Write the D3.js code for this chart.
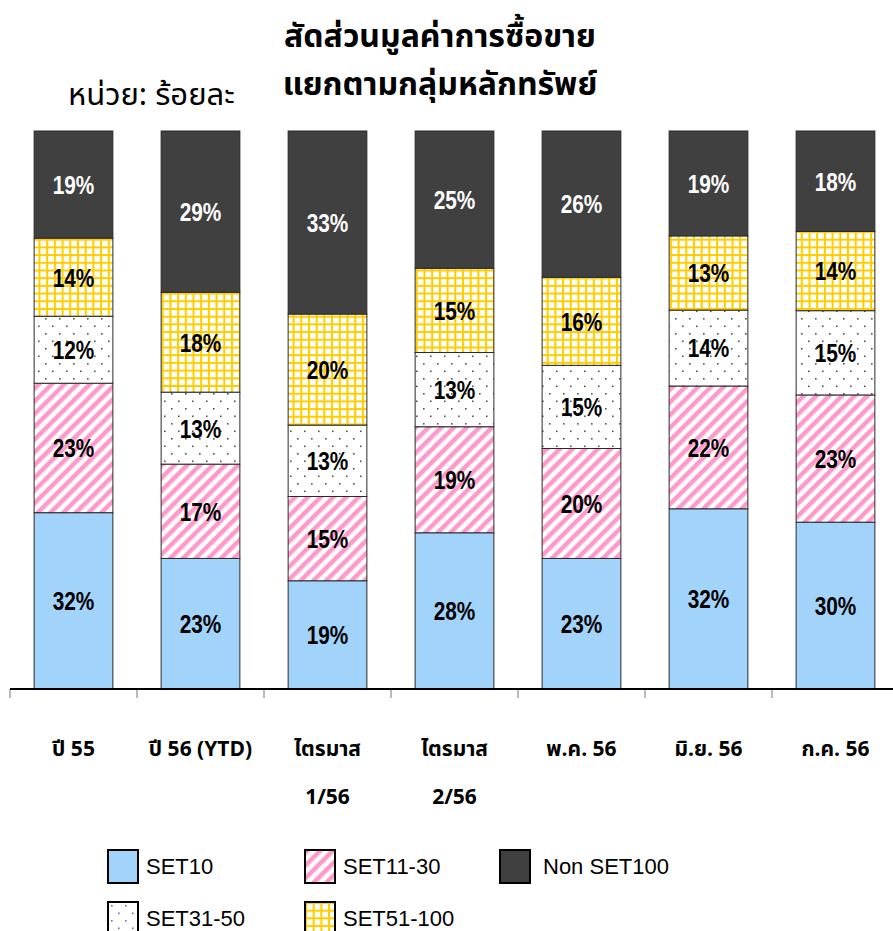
<!DOCTYPE html>
<html>
<head>
<meta charset="utf-8">
<script src="https://cdn.jsdelivr.net/npm/d3@7"></script>
<style>
  body { margin: 0; background: #fff; }
  svg { display: block; }
  .thai { font-family: "Noto Sans Thai", "Noto Sans Thai UI", "Noto Sans", "DejaVu Sans", sans-serif; }
  .lbl { font-family: "Liberation Sans", Arial, sans-serif; font-weight: bold; }
  .leg { font-family: "Liberation Sans", Arial, sans-serif; }
</style>
</head>
<body>
<svg id="chart" width="893" height="931"></svg>
<script>
// categories (x axis), two lines for the long ones
var categories = ["ปี 55", "ปี 56 (YTD)", "ไตรมาส 1/56", "ไตรมาส 2/56", "พ.ค. 56", "มิ.ย. 56", "ก.ค. 56"];
var categoryLines = [["ปี 55"], ["ปี 56 (YTD)"], ["ไตรมาส", "1/56"], ["ไตรมาส", "2/56"], ["พ.ค. 56"], ["มิ.ย. 56"], ["ก.ค. 56"]];

var seriesNames = ["SET10", "SET11-30", "SET31-50", "SET51-100", "Non SET100"];
var legendOrder = ["SET10", "SET11-30", "Non SET100", "SET31-50", "SET51-100"];

// shares per period (percent)
var set10    = [31.6, 23.4, 19.4, 28.0, 23.4, 32.3, 29.9];
var set11_30 = [23.2, 16.9, 15.1, 19.0, 19.7, 22.0, 22.8];
var set31_50 = [12.0, 12.9, 12.8, 13.3, 14.9, 13.6, 15.1];
var set51_100 = [14.0, 17.9, 19.9, 15.1, 15.8, 13.3, 14.2];
var nonSet100 = [19.2, 28.9, 32.8, 24.6, 26.2, 18.8, 18.0];

var titleLines = ["สัดส่วนมูลค่าการซื้อขาย", "แยกตามกลุ่มหลักทรัพย์"];
var unitLabel = "หน่วย: ร้อยละ";

var svg = d3.select("#chart");

var rows = categories.map(function(c, i) {
	return {
		cat: c,
		"SET10": set10[i],
		"SET11-30": set11_30[i],
		"SET31-50": set31_50[i],
		"SET51-100": set51_100[i],
		"Non SET100": nonSet100[i]
	};
});

// ---- patterns
var defs = svg.append("defs");

var hatch = defs.append("pattern").attr("id", "hatch")
	.attr("patternUnits", "userSpaceOnUse")
	.attr("width", 9).attr("height", 9)
	.attr("patternTransform", "rotate(45)");
hatch.append("rect").attr("width", 9).attr("height", 9).attr("fill", "#fff");
hatch.append("rect").attr("width", 4.5).attr("height", 9).attr("fill", "#ff99cc");

var grid = defs.append("pattern").attr("id", "grid")
	.attr("patternUnits", "userSpaceOnUse")
	.attr("width", 7.7).attr("height", 7.7);
grid.append("rect").attr("width", 7.7).attr("height", 7.7).attr("fill", "#fff");
grid.append("rect").attr("width", 7.7).attr("height", 2).attr("fill", "#ffcc00");
grid.append("rect").attr("width", 2).attr("height", 7.7).attr("fill", "#ffcc00");

function dotPattern(id, col) {
	var p = defs.append("pattern").attr("id", id)
		.attr("patternUnits", "userSpaceOnUse")
		.attr("width", 14).attr("height", 15);
	p.append("rect").attr("width", 14).attr("height", 15).attr("fill", "#fff");
	p.append("rect").attr("x", 3).attr("y", 3).attr("width", 1.6).attr("height", 1.6).attr("fill", col);
	p.append("rect").attr("x", 10).attr("y", 10.5).attr("width", 1.6).attr("height", 1.6).attr("fill", col);
}
dotPattern("dots", "#555");
dotPattern("dotsLeg", "#6a6ad0");

var fills = {
	"SET10": "#a2d3fb",
	"SET11-30": "url(#hatch)",
	"SET31-50": "url(#dots)",
	"SET51-100": "url(#grid)",
	"Non SET100": "#404040"
};
var legFills = {
	"SET10": "#a2d3fb",
	"SET11-30": "url(#hatch)",
	"SET31-50": "url(#dotsLeg)",
	"SET51-100": "url(#grid)",
	"Non SET100": "#404040"
};

// ---- scales
var x0 = 10, x1 = 899, yTop = 131, yBase = 689;
var x = d3.scaleBand().domain(categories).range([x0, x1]).paddingInner(0.38).paddingOuter(0.19);
var y = d3.scaleLinear().domain([0, 100]).range([yBase, yTop]);

var stack = d3.stack().keys(seriesNames);
var layers = stack(rows);

var gBars = svg.append("g").attr("class", "bars");
var layer = gBars.selectAll("g.layer").data(layers).enter().append("g")
	.attr("class", "layer");

layer.selectAll("rect").data(function(d) { return d; }).enter().append("rect")
	.attr("x", function(d) { return x(d.data.cat); })
	.attr("width", x.bandwidth())
	.attr("y", function(d) { return y(d[1]); })
	.attr("height", function(d) { return y(d[0]) - y(d[1]); })
	.attr("fill", function(d) { return fills[d3.select(this.parentNode).datum().key]; })
	.attr("stroke", "#2a2a2a")
	.attr("stroke-width", 1);

// value labels, squeezed sideways to look like a narrow face
layer.selectAll("text").data(function(d) { return d; }).enter().append("text")
	.attr("class", "lbl")
	.attr("transform", function(d) {
		var cx = x(d.data.cat) + x.bandwidth() / 2;
		var cy = (y(d[0]) + y(d[1])) / 2;
		return "translate(" + cx + "," + cy + ") scale(0.8,1)";
	})
	.attr("dy", "0.36em")
	.attr("text-anchor", "middle")
	.attr("font-size", 26)
	.attr("fill", function(d) { return d3.select(this.parentNode).datum().key == "Non SET100" ? "#fff" : "#000"; })
	.text(function(d) { return Math.round(d[1] - d[0]) + "%"; });

// ---- x axis
var gAxis = svg.append("g");
var edges = categories.map(function(c) { return x(c) - x.step() * x.paddingInner() / 2; });
gAxis.selectAll("line.tick").data(edges).enter().append("line")
	.attr("x1", function(d) { return d; }).attr("x2", function(d) { return d; })
	.attr("y1", yBase).attr("y2", yBase + 9)
	.attr("stroke", "#777").attr("stroke-width", 1);
gAxis.append("line")
	.attr("x1", x0).attr("x2", 893)
	.attr("y1", yBase).attr("y2", yBase)
	.attr("stroke", "#000").attr("stroke-width", 2);

var xl = gAxis.selectAll("text.xl").data(categories).enter().append("text")
	.attr("class", "thai")
	.attr("text-anchor", "middle")
	.attr("font-weight", "bold")
	.attr("font-size", 21)
	.attr("x", function(d) { return x(d) + x.bandwidth() / 2; })
	.attr("y", 756);
xl.selectAll("tspan").data(function(d, i) { return categoryLines[i]; }).enter().append("tspan")
	.attr("x", function() { return x(d3.select(this.parentNode).datum()) + x.bandwidth() / 2; })
	.attr("dy", function(d, i) { return i == 0 ? 0 : 48; })
	.text(function(d) { return d; });

// ---- titles
svg.append("g").selectAll("text").data(titleLines).enter().append("text")
	.attr("class", "thai")
	.attr("x", 440).attr("y", function(d, i) { return 47 + i * 48; })
	.attr("text-anchor", "middle")
	.attr("font-weight", "bold")
	.attr("font-size", 32)
	.text(function(d) { return d; });

svg.append("text").attr("class", "thai")
	.attr("x", 68).attr("y", 105)
	.attr("font-size", 31)
	.text(unitLabel);

// ---- legend
var legPos = [[108, 850], [305, 850], [500, 850], [108, 902], [305, 902]];
var leg = svg.append("g").selectAll("g").data(legendOrder).enter().append("g")
	.attr("transform", function(d, i) { return "translate(" + legPos[i][0] + "," + legPos[i][1] + ")"; });
leg.append("rect")
	.attr("width", 30).attr("height", 33)
	.attr("fill", function(d) { return legFills[d]; })
	.attr("stroke", "#000").attr("stroke-width", 2);
leg.append("text").attr("class", "leg")
	.attr("x", function(d) { return d == "Non SET100" ? 43 : 38; })
	.attr("y", 24)
	.attr("font-size", 22)
	.text(function(d) { return d; });
</script>
</body>
</html>
